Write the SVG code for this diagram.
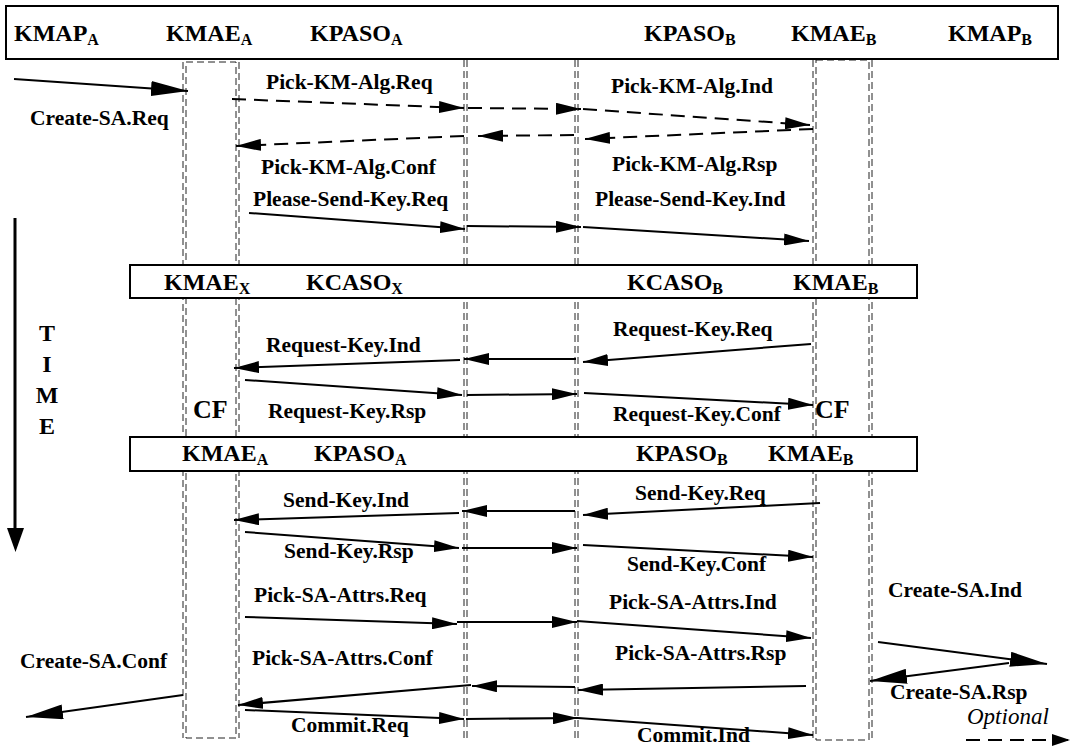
<svg xmlns="http://www.w3.org/2000/svg" width="1071" height="746" viewBox="0 0 1071 746">
<style>
.big{font-family:"Liberation Serif","Times New Roman",serif;font-weight:bold;font-size:24px;fill:#000}
.sub{font-size:16px}
.lbl{font-family:"Liberation Serif","Times New Roman",serif;font-weight:bold;font-size:21.5px;fill:#000}
.opt{font-family:"Liberation Serif","Times New Roman",serif;font-style:italic;font-size:23px;fill:#000}
.box{fill:#fff;stroke:#000;stroke-width:2}
.life{fill:none;stroke:#222;stroke-width:1;stroke-dasharray:7 4}
.msg{stroke:#000;stroke-width:2;fill:none;marker-end:url(#hs)}
.dash{stroke-dasharray:14 8}
.ext{marker-end:url(#hb)}
.leg{marker-end:url(#hl)}
</style>
<defs>
<marker id="hs" viewBox="0 0 25 12" refX="25" refY="6" markerWidth="25" markerHeight="12" markerUnits="userSpaceOnUse" orient="auto"><path d="M0,0 L25,6 L0,12 z" fill="#000"/></marker>
<marker id="hb" viewBox="0 0 37 15" refX="37" refY="7.5" markerWidth="37" markerHeight="15" markerUnits="userSpaceOnUse" orient="auto"><path d="M0,0 L37,7.5 L0,15 z" fill="#000"/></marker>
<marker id="hl" viewBox="0 0 18 12" refX="18" refY="6" markerWidth="18" markerHeight="12" markerUnits="userSpaceOnUse" orient="auto"><path d="M0,0 L18,6 L0,12 z" fill="#000"/></marker>
</defs>
<rect width="1071" height="746" fill="#fff"/>

<g id="lifelines">
<g id="life-kmae-a"><rect class="life" x="186" y="62" width="50" height="676"/><line class="life" x1="183" y1="62" x2="183" y2="738"/><line class="life" x1="239" y1="62" x2="239" y2="738"/></g>
<g id="life-kpaso-a"><line class="life" x1="464" y1="60" x2="464" y2="742"/><line class="life" x1="467" y1="60" x2="467" y2="742"/></g>
<g id="life-kpaso-b"><line class="life" x1="575" y1="60" x2="575" y2="742"/><line class="life" x1="578" y1="60" x2="578" y2="742"/></g>
<g id="life-kmae-b"><rect class="life" x="816" y="60" width="53" height="680"/><line class="life" x1="813" y1="60" x2="813" y2="740"/><line class="life" x1="872" y1="60" x2="872" y2="740"/></g>
</g>

<g id="header">
<rect class="box" x="6" y="6" width="1052" height="53"/>
<text class="big" x="14" y="41">KMAP<tspan class="sub" dy="4">A</tspan></text>
<text class="big" x="166" y="41">KMAE<tspan class="sub" dy="4">A</tspan></text>
<text class="big" x="310" y="41">KPASO<tspan class="sub" dy="4">A</tspan></text>
<text class="big" x="644" y="41">KPASO<tspan class="sub" dy="4">B</tspan></text>
<text class="big" x="791" y="41">KMAE<tspan class="sub" dy="4">B</tspan></text>
<text class="big" x="948" y="41">KMAP<tspan class="sub" dy="4">B</tspan></text>
</g>

<g id="kcaso-box">
<rect class="box" x="130" y="265" width="787" height="33"/>
<text class="big" x="164" y="290">KMAE<tspan class="sub" dy="4">X</tspan></text>
<text class="big" x="306" y="290">KCASO<tspan class="sub" dy="4">X</tspan></text>
<text class="big" x="627" y="290">KCASO<tspan class="sub" dy="4">B</tspan></text>
<text class="big" x="793" y="290">KMAE<tspan class="sub" dy="4">B</tspan></text>
</g>

<g id="kpaso-box">
<rect class="box" x="130" y="437" width="787" height="34"/>
<text class="big" x="182" y="461">KMAE<tspan class="sub" dy="4">A</tspan></text>
<text class="big" x="314" y="461">KPASO<tspan class="sub" dy="4">A</tspan></text>
<text class="big" x="636" y="461">KPASO<tspan class="sub" dy="4">B</tspan></text>
<text class="big" x="768" y="461">KMAE<tspan class="sub" dy="4">B</tspan></text>
</g>

<g id="time-axis">
<line x1="15" y1="218" x2="15" y2="530" stroke="#000" stroke-width="3"/>
<path d="M7,528 L24,528 L15.5,552 z" fill="#000"/>
<text class="big" x="47" y="341" text-anchor="middle">T</text>
<text class="big" x="47" y="372" text-anchor="middle">I</text>
<text class="big" x="47" y="403" text-anchor="middle">M</text>
<text class="big" x="47" y="434" text-anchor="middle">E</text>
</g>

<g id="cf-markers">
<text class="big" x="193" y="418" style="font-size:26px">CF</text>
<text class="big" x="815" y="418" style="font-size:26px">CF</text>
</g>

<g id="connectors">
<path class="msg ext" d="M14,79 L188,91"/>
<path class="msg dash" d="M232,99 L464,108"/>
<path class="msg dash" d="M468,108 L581,109"/>
<path class="msg dash" d="M583,109 L810,125"/>
<path class="msg dash" d="M813,129 L585,139"/>
<path class="msg dash" d="M574,135 L478,136"/>
<path class="msg dash" d="M464,136 L236,146"/>
<path class="msg" d="M249,213 L465,229"/>
<path class="msg" d="M467,226 L581,227"/>
<path class="msg" d="M583,227 L809,241"/>
<path class="msg" d="M811,344 L583,362"/>
<path class="msg" d="M576,359 L464,359"/>
<path class="msg" d="M460,360 L234,368"/>
<path class="msg" d="M245,380 L462,395"/>
<path class="msg" d="M467,395 L577,394"/>
<path class="msg" d="M584,393 L813,405"/>
<path class="msg" d="M820,503 L583,515"/>
<path class="msg" d="M575,511 L462,511"/>
<path class="msg" d="M459,513 L234,520"/>
<path class="msg" d="M245,532 L459,548"/>
<path class="msg" d="M462,548 L577,548"/>
<path class="msg" d="M583,545 L813,557"/>
<path class="msg" d="M245,617 L457,624"/>
<path class="msg" d="M457,622 L577,622"/>
<path class="msg" d="M577,621 L811,638"/>
<path class="msg" d="M806,686 L578,690"/>
<path class="msg" d="M575,687 L472,686"/>
<path class="msg" d="M471,685 L238,705"/>
<path class="msg" d="M245,710 L464,719"/>
<path class="msg" d="M466,719 L578,718"/>
<path class="msg" d="M578,718 L813,735"/>
<path class="msg ext" d="M183,695 L26,717"/>
<path class="msg ext" d="M878,642 L1047,664"/>
<path class="msg ext" d="M1009,663 L870,681"/>
<path class="msg dash leg" d="M966,740 L1070,740"/>
</g>

<g id="labels">
<text class="lbl" x="30" y="125">Create-SA.Req</text>
<text class="lbl" x="266" y="89">Pick-KM-Alg.Req</text>
<text class="lbl" x="611" y="93">Pick-KM-Alg.Ind</text>
<text class="lbl" x="261" y="174">Pick-KM-Alg.Conf</text>
<text class="lbl" x="612" y="171">Pick-KM-Alg.Rsp</text>
<text class="lbl" x="253" y="206">Please-Send-Key.Req</text>
<text class="lbl" x="595" y="206">Please-Send-Key.Ind</text>
<text class="lbl" x="613" y="336">Request-Key.Req</text>
<text class="lbl" x="266" y="352">Request-Key.Ind</text>
<text class="lbl" x="268" y="418">Request-Key.Rsp</text>
<text class="lbl" x="613" y="421">Request-Key.Conf</text>
<text class="lbl" x="635" y="500">Send-Key.Req</text>
<text class="lbl" x="283" y="507">Send-Key.Ind</text>
<text class="lbl" x="284" y="558">Send-Key.Rsp</text>
<text class="lbl" x="627" y="571">Send-Key.Conf</text>
<text class="lbl" x="254" y="602">Pick-SA-Attrs.Req</text>
<text class="lbl" x="609" y="609">Pick-SA-Attrs.Ind</text>
<text class="lbl" x="888" y="597">Create-SA.Ind</text>
<text class="lbl" x="252" y="665">Pick-SA-Attrs.Conf</text>
<text class="lbl" x="615" y="660">Pick-SA-Attrs.Rsp</text>
<text class="lbl" x="20" y="668">Create-SA.Conf</text>
<text class="lbl" x="890" y="699">Create-SA.Rsp</text>
<text class="opt" x="967" y="724">Optional</text>
<text class="lbl" x="291" y="732">Commit.Req</text>
<text class="lbl" x="637" y="742">Commit.Ind</text>
</g>
</svg>
